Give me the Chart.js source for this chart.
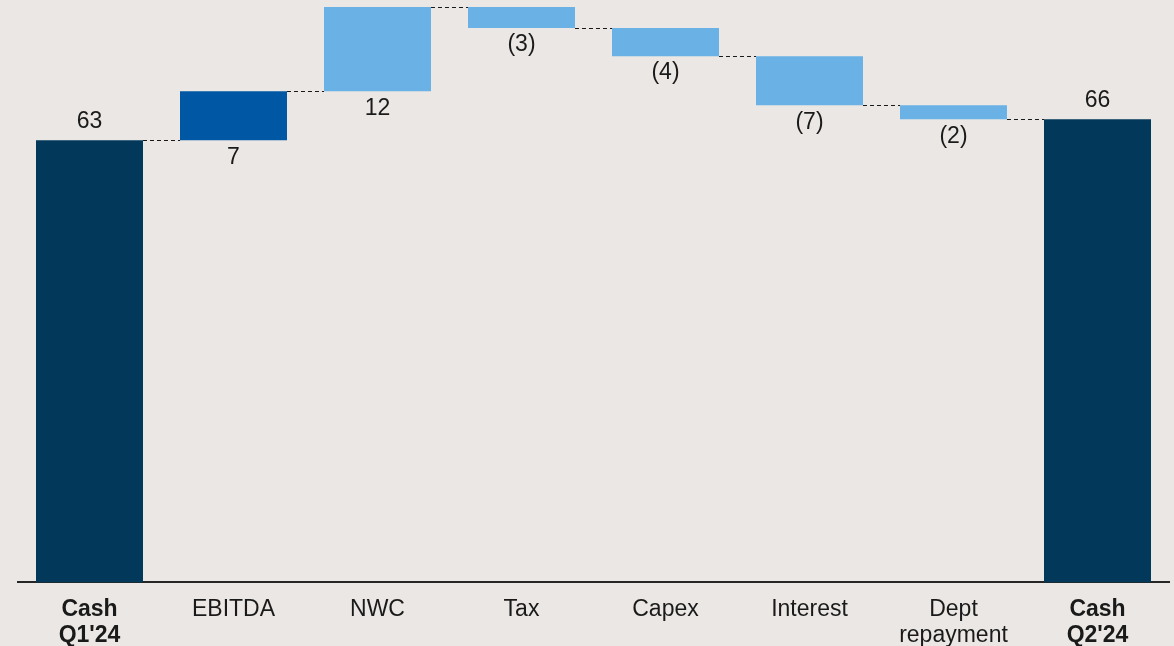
<!DOCTYPE html>
<html><head><meta charset="utf-8">
<script src="https://cdn.jsdelivr.net/npm/chart.js@4/dist/chart.umd.min.js"></script>
<style>html,body{margin:0;padding:0;background:#EBE7E4;}#wrap{width:1174px;height:646px;position:relative;}</style>
</head><body><div id="wrap"><canvas id="c"></canvas></div>
<script>
const categories = [["Cash","Q1'24"], "EBITDA", "NWC", "Tax", "Capex", "Interest", ["Dept","repayment"], ["Cash","Q2'24"]];
const values = [63, 7, 12, -3, -4, -7, -2, 66];
const isTotal = [true, false, false, false, false, false, false, true];
const valueLabels = ["63", "7", "12", "(3)", "(4)", "(7)", "(2)", "66"];
const yMax = 83;

const NAVY = '#02395A', MID = '#0057A4', LIGHT = '#6AB2E6';

// Build floating ranges from the deltas
const ranges = [];
const levels = [];
let cum = 0;
values.forEach((v, i) => {
  if (isTotal[i]) { ranges.push([0, v]); cum = v; }
  else { ranges.push([cum, cum + v]); cum += v; }
  levels.push(cum);
});

const FONT = '"Liberation Sans", Arial, sans-serif';

const overlay = {
  id: 'overlay',
  afterDatasetsDraw(chart) {
    const ctx = chart.ctx;
    const meta = chart.getDatasetMeta(0);
    const ys = chart.scales.y;
    ctx.save();
    ctx.strokeStyle = '#1a1a1a';
    ctx.lineWidth = 1;
    ctx.setLineDash([4, 3]);
    for (let i = 0; i < meta.data.length - 1; i++) {
      const a = meta.data[i].getProps(['x', 'width'], true);
      const b = meta.data[i + 1].getProps(['x', 'width'], true);
      const y = Math.round(ys.getPixelForValue(levels[i])) + 0.5;
      ctx.beginPath();
      ctx.moveTo(a.x + a.width / 2, y);
      ctx.lineTo(b.x - b.width / 2, y);
      ctx.stroke();
    }
    ctx.setLineDash([]);
    ctx.fillStyle = '#1a1a1a';
    ctx.font = '23px ' + FONT;
    ctx.textAlign = 'center';
    ctx.textBaseline = 'middle';
    meta.data.forEach((bar, i) => {
      const p = bar.getProps(['x', 'y', 'base'], true);
      const top = Math.min(p.y, p.base), bottom = Math.max(p.y, p.base);
      if (isTotal[i]) ctx.fillText(valueLabels[i], p.x, top - 19);
      else ctx.fillText(valueLabels[i], p.x, bottom + 17);
    });
    ctx.restore();
  }
};

new Chart(document.getElementById('c'), {
  type: 'bar',
  data: {
    labels: categories,
    datasets: [{
      data: ranges,
      backgroundColor: ctx => isTotal[ctx.dataIndex] ? NAVY : (ctx.dataIndex === 1 ? MID : LIGHT),
      borderWidth: 0,
      borderSkipped: false,
      barPercentage: 0.743,
      categoryPercentage: 1
    }]
  },
  options: {
    responsive: true,
    maintainAspectRatio: false,
    animation: false,
    layout: { padding: { left: 17.5, right: 4.5, top: 0, bottom: -17 } },
    plugins: { legend: { display: false }, tooltip: { enabled: false } },
    scales: {
      x: {
        grid: { display: false, drawTicks: false },
        border: { display: true, color: '#262626', width: 2 },
        ticks: {
          color: '#1a1a1a',
          padding: 15,
          maxRotation: 0,
          autoSkip: false,
          font: ctx => ({ family: FONT, size: 23, lineHeight: 1.1, weight: isTotal[ctx.index] ? 'bold' : 'normal' })
        }
      },
      y: {
        display: false,
        min: 0,
        max: yMax
      }
    }
  },
  plugins: [overlay]
});
</script>
</body></html>
